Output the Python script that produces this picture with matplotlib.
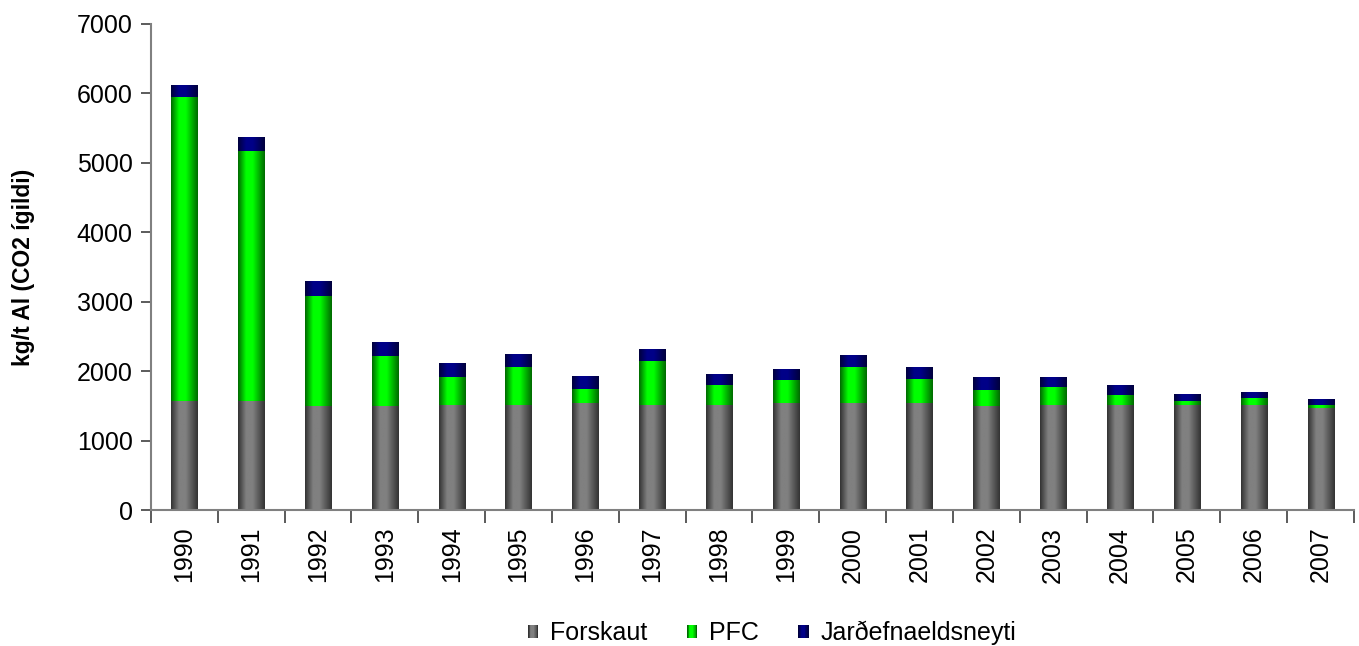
import matplotlib
matplotlib.use("Agg")
import matplotlib.pyplot as plt
import numpy as np
from matplotlib.legend_handler import HandlerBase
from matplotlib.patches import Rectangle, Patch
from matplotlib.colors import to_rgb

plt.rcParams['font.family'] = ['Liberation Sans', 'DejaVu Sans']

years = [str(y) for y in range(1990, 2008)]
forskaut = [1570, 1570, 1500, 1500, 1515, 1515, 1540, 1515, 1515, 1540, 1540, 1540, 1500, 1515, 1515, 1515, 1515, 1470]
pfc = [4380, 3595, 1585, 720, 400, 545, 205, 630, 285, 330, 520, 345, 230, 255, 145, 55, 100, 45]
fuel = [160, 195, 215, 200, 200, 175, 185, 160, 145, 145, 170, 160, 175, 130, 130, 100, 85, 85]

series = ["Forskaut", "PFC", "Jarðefnaeldsneyti"]
# (dark edge, light centre) for cylinder-like shading
shades = {
    "Forskaut": ("#333333", "#808080"),
    "PFC": ("#006a00", "#00ff00"),
    "Jarðefnaeldsneyti": ("#00003c", "#000088"),
}


def profile(n):
    t = np.linspace(0, 1, n)
    return np.interp(t, [0, 0.3, 0.55, 1], [0.0, 1.0, 1.0, 0.0])


def gradient_colors(name, n=64):
    dark, light = np.array(to_rgb(shades[name][0])), np.array(to_rgb(shades[name][1]))
    p = profile(n)[:, None]
    return dark + (light - dark) * p


class GradientHandler(HandlerBase):
    def create_artists(self, legend, orig_handle, xdescent, ydescent,
                       width, height, fontsize, trans):
        cols = gradient_colors(orig_handle.get_label(), 12)
        w = width / len(cols)
        arts = []
        for i, c in enumerate(cols):
            r = Rectangle((-xdescent + i * w, -ydescent), w * 1.05, height,
                          facecolor=c, edgecolor='none', transform=trans)
            arts.append(r)
        return arts


fig = plt.figure(figsize=(13.59, 6.46), dpi=100)
ax = fig.add_axes([0.111, 0.2105, 0.8853, 0.7525])

x = np.arange(len(years))
bottom = np.zeros(len(years))
for name, vals in zip(series, [forskaut, pfc, fuel]):
    bars = ax.bar(x, vals, width=0.39, bottom=bottom, color='none', label=name)
    grad = gradient_colors(name)[None, :, :]
    for b in bars:
        ax.imshow(grad, extent=(b.get_x(), b.get_x() + b.get_width(),
                                b.get_y(), b.get_y() + b.get_height()),
                  aspect='auto', interpolation='bilinear', zorder=2)
    bottom += np.array(vals)

ax.set_xlim(-0.5, len(years) - 0.5)
ax.set_ylim(0, 7000)
ax.set_yticks(range(0, 7001, 1000))
ax.tick_params(axis='y', labelsize=18, length=7, width=1.2, color='#404040', pad=6)

ax.set_xticks(x)
ax.set_xticklabels(years, rotation=90, fontsize=18)
ax.tick_params(axis='x', which='major', length=0, pad=12)
ax.set_xticks(np.arange(-0.5, len(years)), minor=True)
ax.tick_params(axis='x', which='minor', length=9, width=1.2, color='#404040')

for s in ['top', 'right']:
    ax.spines[s].set_visible(False)
for s in ['left', 'bottom']:
    ax.spines[s].set_color('#808080')
    ax.spines[s].set_linewidth(1.5)

ax.set_ylabel("kg/t Al (CO2 ígildi)", fontsize=16.5, fontweight='bold', labelpad=18)
ax.yaxis.set_label_coords(-0.096, 0.5)

handles = [Patch(label=n) for n in series]
fig.legend(handles=handles, labels=series, handler_map={Patch: GradientHandler()},
           loc='center', bbox_to_anchor=(0.568, 0.02), ncol=3, frameon=False,
           fontsize=18, handlelength=0.42, handleheight=0.42, handletextpad=0.45,
           columnspacing=1.6, borderpad=0.2)

fig.savefig("out.png", dpi=100)
